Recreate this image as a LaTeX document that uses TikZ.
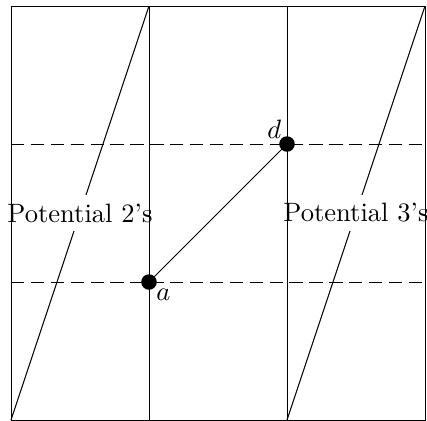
\documentclass[tikz,border=0pt]{standalone}
\begin{document}
\begin{tikzpicture}[x=2cm,y=2cm,
  every node/.style={font=\fontsize{10.95}{13.6}\selectfont},
  gridline/.style={line width=0.4pt},
  dashline/.style={line width=0.4pt,dash pattern=on 5.5pt off 2.7pt},
  potlabel/.style={fill=white,inner sep=3.6pt},
  dot/.style={circle,fill=black,inner sep=0pt,minimum size=6.4pt}]
\useasboundingbox (-0.0797,0) rectangle (3.0145,3.0435);
% corner coordinates
\coordinate (b0) at (0,0); \coordinate (t0) at (0,3);
\coordinate (b1) at (1,0); \coordinate (t1) at (1,3);
\coordinate (b2) at (2,0); \coordinate (t2) at (2,3);
\coordinate (b3) at (3,0); \coordinate (t3) at (3,3);
\coordinate (l1) at (0,1); \coordinate (r1) at (3,1);
\coordinate (l2) at (0,2); \coordinate (r2) at (3,2);
% diagonals
\draw[gridline] (b0) -- (t1);
\draw[gridline] (b2) -- (t3);
% labels covering diagonals
\node[potlabel] (p2) at (0.5,1.5) {Potential 2's};
\node[potlabel] (p3) at (2.5,1.5) {Potential 3's};
% grid
\draw[gridline] (b0) -- (t0) -- (t3) -- (b3) -- cycle;
\draw[gridline] (b1) -- (t1);
\draw[gridline] (b2) -- (t2);
\draw[dashline] (l1) -- (r1);
\draw[dashline] (l2) -- (r2);
% points
\coordinate (a) at (1,1);
\coordinate (d) at (2,2);
\draw[gridline] (a) -- (d);
\node[dot] (adot) at (a) {};
\node[dot] (ddot) at (d) {};
\node[below right,inner sep=2.8pt] (alab) at (a) {$a$};
\node[above left,inner sep=2.2pt] (dlab) at (d) {$d$};
\end{tikzpicture}
\end{document}
